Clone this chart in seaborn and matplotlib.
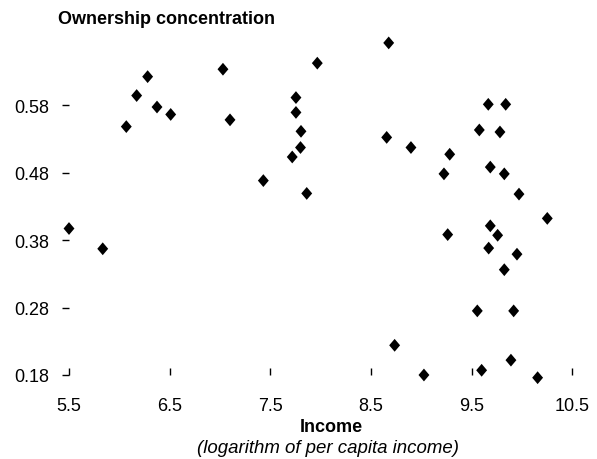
import matplotlib
matplotlib.use("Agg")
import matplotlib.pyplot as plt
import seaborn as sns
import pandas as pd

# Log of per capita income and ownership concentration, one point per country
income = [5.50, 5.835, 6.069, 6.172, 6.281, 6.374, 6.510, 7.029, 7.099, 7.430,
          7.754, 7.754, 7.804, 7.799, 7.717, 7.861, 7.966, 8.675, 8.655, 8.896,
          8.734, 9.025, 9.281, 9.224, 9.261, 9.575, 9.664, 9.837, 9.780, 9.684,
          9.823, 9.969, 10.250, 9.684, 9.757, 9.668, 9.949, 9.823, 9.555, 9.916,
          9.598, 9.889, 10.154]
ownership = [0.397, 0.367, 0.548, 0.594, 0.622, 0.577, 0.566, 0.633, 0.558, 0.468,
             0.591, 0.569, 0.541, 0.517, 0.503, 0.449, 0.642, 0.672, 0.532, 0.517,
             0.224, 0.180, 0.507, 0.478, 0.388, 0.543, 0.581, 0.581, 0.540, 0.488,
             0.478, 0.448, 0.412, 0.401, 0.387, 0.368, 0.359, 0.336, 0.275, 0.275,
             0.187, 0.202, 0.176]

x_ticks = [5.5, 6.5, 7.5, 8.5, 9.5, 10.5]
y_ticks = [0.18, 0.28, 0.38, 0.48, 0.58]

df = pd.DataFrame({"income": income, "ownership": ownership})

sns.set_style("white")
plt.rcParams["font.family"] = ["Liberation Sans", "DejaVu Sans"]
plt.rcParams["text.color"] = "black"

fig = plt.figure(figsize=(5.97, 4.60), dpi=100)
ax = fig.add_axes([69 / 597, 84 / 460, 523.6 / 597, 364.5 / 460])

diamond = [(0, 1), (0.85, 0), (0, -1), (-0.85, 0), (0, 1)]
sns.scatterplot(data=df, x="income", y="ownership", ax=ax, marker=diamond,
                s=85, color="black", edgecolor="none", linewidth=0,
                clip_on=False, legend=False)

ax.set_xlim(5.5, 10.7)
ax.set_ylim(0.18, 0.72)
for sp in ax.spines.values():
    sp.set_visible(False)

ax.set_xticks(x_ticks)
ax.set_xticklabels([f"{v:.1f}" for v in x_ticks])
ax.set_yticks(y_ticks)
ax.set_yticklabels([f"{v:.2f}" for v in y_ticks])
ax.tick_params(axis="x", direction="in", length=5, width=1.0, pad=16,
               labelsize=13, colors="black", bottom=True)
ax.tick_params(axis="y", direction="out", length=5, width=1.0, pad=9,
               labelsize=13, colors="black", left=True)
ax.set_xlabel("")
ax.set_ylabel("")

fig.text(58 / 597, 1 - 20 / 460, "Ownership concentration", fontsize=13,
         fontweight="bold", ha="left", va="center", color="black")
fig.text(331 / 597, 1 - 428 / 460, "Income", fontsize=13,
         fontweight="bold", ha="center", va="center", color="black")
fig.text(328 / 597, 1 - 449 / 460, "(logarithm of per capita income)",
         fontsize=13.4, fontstyle="italic", ha="center", va="center",
         color="black")

fig.savefig("out.png", dpi=100)
